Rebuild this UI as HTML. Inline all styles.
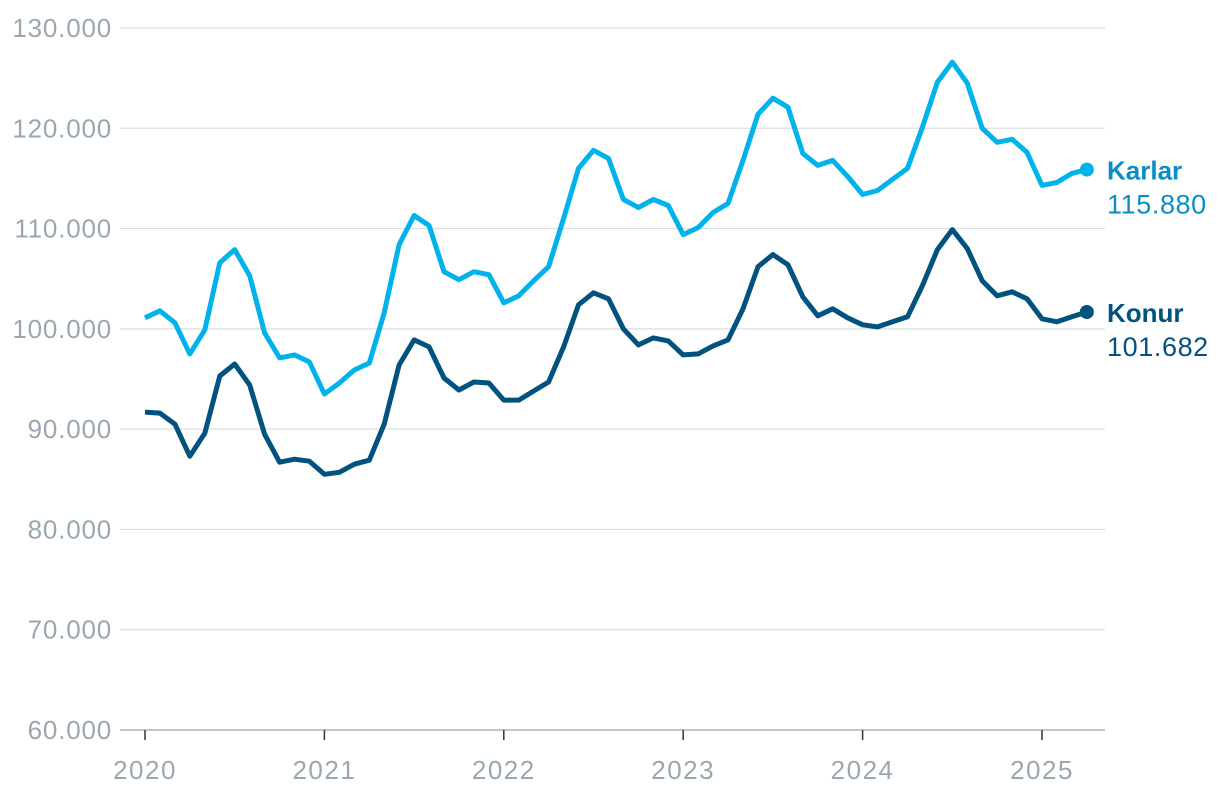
<!DOCTYPE html>
<html><head><meta charset="utf-8"><style>
body{margin:0;background:#fff}
svg text{font-family:"Liberation Sans",sans-serif}
</style></head><body>
<svg id="chart" width="1220" height="796" xmlns="http://www.w3.org/2000/svg">
<g id="grid"></g>
<g id="yaxis"></g>
<g id="xaxis"></g>
<g id="series"></g>
</svg>
<script>
const yTicks=[60000,70000,80000,90000,100000,110000,120000,130000];
const yTickLabels=["60.000","70.000","80.000","90.000","100.000","110.000","120.000","130.000"];
const xYears=[2020,2021,2022,2023,2024,2025];
const karlar=[101.1,101.8,100.6,97.5,99.9,106.6,107.9,105.3,99.6,97.1,97.4,96.7,
93.5,94.6,95.9,96.6,101.6,108.4,111.3,110.3,105.7,104.9,105.7,105.4,
102.6,103.3,104.8,106.2,111.0,116.0,117.8,117.0,112.9,112.1,112.9,112.3,
109.4,110.1,111.6,112.5,116.8,121.4,123.0,122.1,117.5,116.3,116.8,115.2,
113.4,113.8,114.9,116.0,120.1,124.6,126.6,124.5,120.0,118.6,118.9,117.6,
114.3,114.6,115.5,115.88];
const konur=[91.7,91.6,90.5,87.3,89.6,95.3,96.5,94.4,89.5,86.7,87.0,86.8,
85.5,85.7,86.5,86.9,90.5,96.4,98.9,98.2,95.1,93.9,94.7,94.6,
92.9,92.9,93.8,94.7,98.2,102.4,103.6,103.0,100.0,98.4,99.1,98.8,
97.4,97.5,98.3,98.9,102.0,106.2,107.4,106.4,103.2,101.3,102.0,101.1,
100.4,100.2,100.7,101.2,104.3,107.9,109.9,108.0,104.8,103.3,103.7,103.0,
101.0,100.7,101.2,101.682];
const seriesNames=["Karlar","Konur"];
const lastLabels=["115.880","101.682"];
const NS="http://www.w3.org/2000/svg";
function y(v){return 730-(v-60000)/70000*702;}
function x(m){return 145+m*(1042-145)/60;}
function mk(tag,attrs,parent,txt){const e=document.createElementNS(NS,tag);for(const k in attrs)e.setAttribute(k,attrs[k]);if(txt!==undefined)e.textContent=txt;parent.appendChild(e);return e;}
const grid=document.getElementById('grid'),ya=document.getElementById('yaxis'),xa=document.getElementById('xaxis'),sg=document.getElementById('series');
yTicks.forEach((t,i)=>{
 if(i>0){const l=mk('line',{x1:120,x2:1105,y1:y(t),y2:y(t),stroke:'#dcdfe2','stroke-width':1.2},grid);
 
 }
 const tx=mk('text',{x:112,y:y(t)+9,'text-anchor':'end','font-size':26,'letter-spacing':0.8,fill:'#9aa7b0'},ya,yTickLabels[i]);
 
 
});
const ax=mk('line',{x1:120,x2:1105,y1:730,y2:730,stroke:'#aab4bb','stroke-width':1.5},xa);


xYears.forEach((yr,i)=>{
 const xx=x(i*12);
 const tk=mk('line',{x1:xx,x2:xx,y1:730,y2:740,stroke:'#333','stroke-width':1.5},xa);
 
 
 const t=mk('text',{x:xx,y:779,'text-anchor':'middle','font-size':26,'letter-spacing':1.5,fill:'#9aa7b0'},xa,String(yr));
 
 
});
const cols=['#00b2ec','#01527f'],labCols=['#0a8ec6','#01527f'];
[karlar,konur].forEach((d,s)=>{
 const pts=d.map((v,i)=>x(i).toFixed(1)+','+y(v*1000).toFixed(1)).join(' ');
 const p=mk('polyline',{points:pts,fill:'none',stroke:cols[s],'stroke-width':5,'stroke-linejoin':'round'},sg);
 
 
 const li=d.length-1,lx=x(li),ly=y(d[li]*1000);
 const c=mk('circle',{cx:lx,cy:ly,r:7,fill:cols[s]},sg);
 
 
 const n=mk('text',{x:1107,y:ly+10,'font-size':26,'font-weight':'bold',fill:labCols[s]},sg,seriesNames[s]);
 
 
 const v=mk('text',{x:1107,y:ly+44,'font-size':27,'letter-spacing':0.6,fill:labCols[s]},sg,lastLabels[s]);
 
 
});
</script>
</body></html>
